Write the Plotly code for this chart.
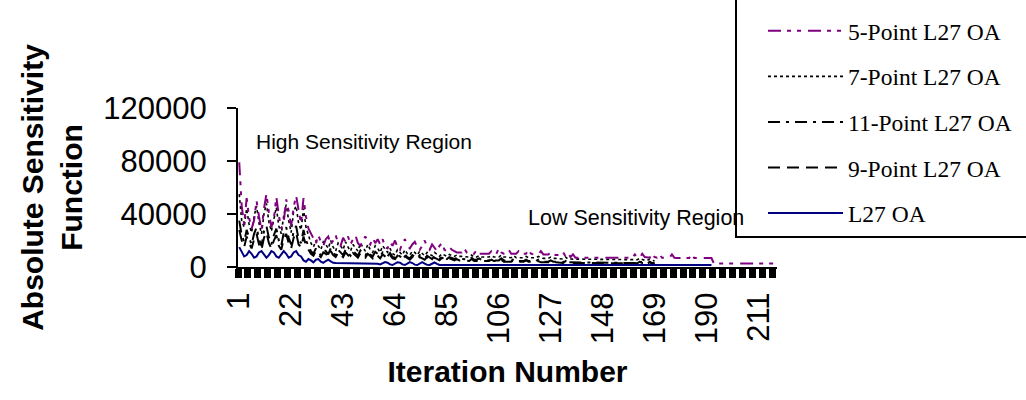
import plotly.graph_objects as go

# ---------------- data ----------------
N_ITER = 218
iterations = list(range(1, N_ITER + 1))
tick_values = [1, 22, 43, 64, 85, 106, 127, 148, 169, 190, 211]
tick_labels = ["1", "22", "43", "64", "85", "106", "127", "148", "169", "190", "211"]
y_ticks = [0, 40000, 80000, 120000]

five_point = [
    79000, 46000, 32000, 52000, 37000, 29000, 35000, 50000, 38000, 28000,
    44000, 55000, 41000, 30000, 36000, 53000, 39000, 29000, 34000, 51000,
    42000, 31000, 45000, 54000, 43000, 33000, 52000, 38000, 29000, 25000,
    22000, 18000, 24000, 19000, 16000, 21000, 23000, 17000, 20000, 24000,
    18000, 16000, 22000, 19000, 23000, 17000, 21000, 24000, 18000, 16000,
    20000, 23000, 19000, 17000, 22000, 18000, 21000,
    17000, 21000, 15000, 14000, 19000, 16000, 20000, 15000, 13000, 18000,
    21000, 16000, 14000, 17000, 19000, 15000, 13000, 16000, 20000, 15000,
    13000, 17000, 14000, 12000, 16000, 18000, 13000, 12000, 15000, 13000, 12000,
    11000, 11000, 11000, 14000, 11000, 10000, 10000, 10000, 13000, 10000,
    10000, 10000, 10000, 10000, 12000, 10000, 10000, 14000, 11000, 10000,
    10000, 13000, 10000, 10000, 10000, 12000, 10000, 10000, 10000, 13000,
    10000, 9500, 9500, 9500, 12000, 9500, 9500, 9500, 11000, 9500, 9000, 9000,
    9000, 11000, 8000, 10500, 7500, 9500, 7000,
    7000, 7000, 7000, 7000, 7000, 7000, 7000, 7000, 7000, 7000,
    7000, 7000, 7000, 7000, 7000, 7000, 7000, 7000, 7000, 7000, 7000, 7000, 7000,
    9500, 7000, 7000, 10000, 7500, 7000, 7000, 10000, 7500, 7000,
    9500, 7000, 7000, 7000, 7000, 9500, 7000,
    6800, 6800, 6800, 6800, 6800, 6800, 9500, 6800,
    6800, 6800, 6800, 6800, 6800, 6800, 6800,
    2600, 2600, 2600, 2600, 2600, 2600, 2600, 2600, 2600, 2600,
    2600, 2600, 2600, 2600, 2600, 2600, 2600, 2600, 2600, 2600,
    2600, 2600, 2600, 2600, 2600, 2600,
]

seven_point = [
    55000, 35000, 30000, 44000, 32000, 26000, 38000, 46000, 33000, 25000,
    40000, 48000, 34000, 27000, 36000, 45000, 31000, 25000, 39000, 47000,
    35000, 26000, 42000, 46000, 33000, 28000, 44000, 30000,
    24000, 18000, 15000, 20000, 16000, 13000, 19000, 17000, 14000, 20000,
    15000, 12000, 18000, 16000, 13000, 19000, 15000, 12000, 17000, 14000,
    12000, 18000, 15000, 12000, 17000, 13000, 11000, 16000, 14000, 11000,
    16000, 13000,
    11000, 14000, 10000, 9000, 13000, 11000, 9000, 13000, 10000, 9000,
    12000, 11000, 9000, 12000, 10000, 8500, 11000, 10000, 8500, 11000,
    9500, 8000, 10000, 9000, 8000, 9500, 8500, 8000, 9000, 8000,
    8000, 8000, 8000, 7500, 9000, 7500, 7500, 8500, 7500, 7500,
    7500, 7500, 8500, 7500, 7500, 7500, 9000, 7500, 7500, 7000,
    7000, 8500, 7000, 7000, 7000, 7000, 8000, 7000, 7000, 7000,
    7000, 8000, 7000, 6500, 6500, 6500, 7500, 6500, 6500, 6500,
    6500, 6000, 7500, 6000, 6000, 6000, 6000, 6000, 6000, 6000,
    6000, 6000, 6000, 6000, 6000, 6000, 6000, 6000, 6000, 6000,
    6000, 6000, 6000, 6000, 6000, 6000, 6000, 6000, 6000, 6000,
    5500, 5500, 6500, 5500, 5000, 5000, 6000, 5000, 4500,
]

eleven_point = [
    35000, 24000, 19000, 28000, 22000, 17000, 25000, 30000, 21000, 16000,
    27000, 31000, 22000, 17000, 24000, 29000, 20000, 16000, 26000, 30000,
    22000, 17000, 27000, 31000, 21000, 18000, 28000, 20000,
    16000, 12000, 10000, 14000, 11000, 9000, 13000, 12000, 9500, 14000,
    11000, 9000, 13000, 11000, 9000, 13000, 10500, 8500, 12000, 10000,
    8500, 12500, 10500, 8500, 12000, 9500, 8000, 11500, 10000, 8000,
    11000, 9500,
    8000, 10500, 7500, 7000, 10000, 8000, 7000, 9500, 7500, 6500,
    9000, 8000, 6500, 9000, 7500, 6500, 8500, 7500, 6000, 8500,
    7000, 6000, 8000, 7000, 6000, 7500, 6500, 6000, 7000, 6000,
    6000, 6000, 5500, 5500, 7000, 5500, 5500, 6500, 5500, 5000,
    5000, 5000, 6500, 5000, 5000, 5000, 6500, 5000, 5000, 4500,
    4500, 6000, 4500, 4500, 4500, 4500, 5500, 4500, 4500, 4500,
    4500, 5500, 4500, 4000, 4000, 4000, 5000, 4000, 4000, 4000,
    4000, 3500, 5000, 3500, 3500, 3500, 3500, 3500, 3500, 3500,
    3500, 3500, 3500, 3500, 3500, 3500, 3500, 3500, 3500, 3500,
    3500, 3500, 3500, 3500, 3500, 3500, 3500, 3500, 3500, 3500,
    3000, 3000, 4500, 3000, 3000, 3000, 4000, 3000, 2800,
]

nine_point = [
    28000, 20000, 15000, 23000, 18000, 14000, 21000, 25000, 17000, 13000,
    22000, 26000, 18000, 14000, 20000, 24000, 16000, 13000, 21000, 25000,
    18000, 14000, 22000, 26000, 17000, 15000, 23000, 16000,
    13000, 10000, 8500, 12000, 9500, 7500, 11000, 10000, 8000, 12000,
    9000, 7500, 11000, 9500, 7500, 11000, 9000, 7000, 10500, 8500,
    7000, 10500, 9000, 7000, 10000, 8000, 6500, 9500, 8500, 6500,
    9500, 8000,
    6500, 9000, 6500, 6000, 8500, 7000, 6000, 8000, 6500, 5500,
    7500, 7000, 5500, 7500, 6500, 5500, 7500, 6500, 5000, 7000,
    6000, 5000, 7000, 6000, 5000, 6500, 5500, 5000, 6000, 5000,
    5000, 5000, 4500, 4500, 6000, 4500, 4500, 5500, 4500, 4500,
    4500, 4500, 5500, 4500, 4500, 4000, 5500, 4000, 4000, 4000,
    4000, 5000, 4000, 4000, 4000, 4000, 5000, 4000, 4000, 3500,
    3500, 4500, 3500, 3500, 3500, 3500, 4500, 3500, 3500, 3500,
    3500, 3000, 4500, 3000, 3000, 3000, 3000, 3000, 3000, 3000,
    3000, 3000, 3000, 3000, 3000, 3000, 3000, 3000, 3000, 3000,
    3000, 3000, 3000, 3000, 3000, 3000, 3000, 3000, 3000, 3000,
    2800, 2800, 4000, 2800, 2600, 2600, 3500, 2600, 2500,
]

l27 = [
    15000, 11000, 8000, 9000, 12000, 10000, 7000, 8000, 11000, 12000,
    9000, 7000, 9000, 12000, 11000, 8000, 7000, 10000, 12000, 10000,
    7000, 8000, 11000, 12000, 9000,
    8000, 5000, 4000, 6000, 5000,
    3500, 5500, 6000, 4000, 3200, 4500, 5500, 4200, 3200, 3000, 3000,
    3000, 3000, 2900, 2900, 2900, 2800, 2800, 2800, 2800, 2700,
    2700, 2700, 2600, 2600, 2600, 2500,
    2000, 3000, 3700, 3200, 2000, 1500, 2500, 3600, 3300, 2000,
    1500, 2600, 3700, 3000, 1800, 1500, 2800, 3600, 2600, 1600,
    1500, 2500, 3400, 2400, 1500,
    1500, 1500, 1500, 1500, 1500, 1500, 1500, 1500, 1500, 1500,
    1500, 1500, 1500, 1500, 1500, 1500, 1500, 1500, 1500, 1500,
    1500, 1500, 1500, 1500, 1500, 1500, 1500, 1500, 1500, 1500,
    1500, 1500, 1500, 1500, 1500, 1500, 1500, 1500, 1500, 1500,
    1500, 1500, 1500, 1500, 1500, 1500, 1500, 1500, 1500, 1500,
    1500, 1500, 1500, 1500, 1500, 1500, 1500, 1500, 1500, 1500,
    1500, 1500, 1500, 1500, 1500, 1500, 1500, 1500, 1500, 1500,
    1500, 1500, 1500, 1500, 1500, 1500, 1500, 1500, 1500, 1500,
    1500, 1500, 1500, 1500, 1500, 1500, 1500, 1500, 1500, 1500,
    1500, 1500, 1500, 1500, 1500, 1500, 1500, 1500, 1500, 1500,
    1500, 1500, 1500, 1500, 1500, 1500, 1500, 1500, 1500, 1500,
]


def pad(values):
    return list(values) + [None] * (N_ITER - len(values))


# ---------------- layout geometry (pixels) ----------------
W, H = 1026, 400
PL, PR, PT, PB = 238, 777, 108, 267


def fx(p):
    return (p - PL) / (PR - PL)


def fy(p):
    return (PB - p) / (PB - PT)


SANS = "Liberation Sans, Arial, sans-serif"
SERIF = "Liberation Serif, Times New Roman, serif"

series = [
    # name, values, color, dash, width, legend rank
    ("9-Point L27 OA", nine_point, "#000000", "12px,7px", 2, 4),
    ("11-Point L27 OA", eleven_point, "#000000", "12px,6px,3px,6px", 2, 3),
    ("7-Point L27 OA", seven_point, "#000000", "3px,3px", 1.6, 2),
    ("5-Point L27 OA", five_point, "#800080", "13px,6px,4px,6px,4px,7px", 2, 1),
    ("L27 OA", l27, "#000080", "solid", 2, 5),
]

fig = go.Figure()
for name, vals, color, dash, width, rank in series:
    fig.add_trace(go.Scatter(
        x=iterations, y=pad(vals), mode="lines", name=name,
        line=dict(color=color, dash=dash, width=width),
        legendrank=rank, legendgroup=name, connectgaps=False,
    ))

fig.update_layout(
    width=W, height=H,
    margin=dict(l=PL, r=W - PR, t=PT, b=H - PB, autoexpand=False),
    paper_bgcolor="white", plot_bgcolor="white",
    showlegend=True,
    legend=dict(
        x=fx(763), xanchor="left",
        yref="container", y=1 - 9 / H, yanchor="top",
        bgcolor="rgba(0,0,0,0)", borderwidth=0,
        font=dict(family=SERIF, size=23.5, color="black"),
        tracegroupgap=12, itemwidth=75, maxheight=400,
    ),
    xaxis=dict(
        range=[0.5, N_ITER + 0.5],
        tickmode="array", tickvals=tick_values, ticktext=tick_labels,
        tickangle=-90, ticks="", ticklabelstandoff=11,
        tickfont=dict(family=SANS, size=31, color="black"),
        showline=True, linecolor="black", linewidth=2,
        showgrid=False, zeroline=False,
        minor=dict(ticks="outside", ticklen=9, tickwidth=7, tickcolor="black",
                   dtick=4, tick0=0.5, showgrid=False),
        title=dict(text="<b>Iteration Number</b>", standoff=18,
                   font=dict(family=SANS, size=30, color="black")),
    ),
    yaxis=dict(
        range=[0, 120000],
        tickmode="array", tickvals=y_ticks, ticktext=[str(v) for v in y_ticks],
        ticks="outside", ticklen=9, tickwidth=2, tickcolor="black",
        ticklabelstandoff=14,
        tickfont=dict(family=SANS, size=31, color="black"),
        showline=True, linecolor="black", linewidth=2,
        showgrid=False, zeroline=False,
        title=dict(text="<b>Absolute Sensitivity<br>Function</b>", standoff=12,
                   font=dict(family=SANS, size=30, color="black")),
    ),
    annotations=[
        dict(text="High Sensitivity Region", xref="paper", yref="paper",
             x=fx(254), y=fy(141), xanchor="left", yanchor="middle",
             showarrow=False, font=dict(family=SANS, size=21, color="black")),
        dict(text="Low Sensitivity Region", xref="paper", yref="paper",
             x=fx(526), y=fy(218), xanchor="left", yanchor="middle",
             showarrow=False, font=dict(family=SANS, size=21.5, color="black")),
    ],
    shapes=[
        dict(type="line", xref="paper", yref="paper",
             x0=fx(736), x1=fx(736), y0=fy(-5), y1=fy(237),
             line=dict(color="black", width=2)),
        dict(type="line", xref="paper", yref="paper",
             x0=fx(735), x1=fx(1035), y0=fy(237), y1=fy(237),
             line=dict(color="black", width=2)),
    ],
)

fig.write_html("out.html", config={"displayModeBar": False},
               post_script="document.body.style.margin='0px';")
